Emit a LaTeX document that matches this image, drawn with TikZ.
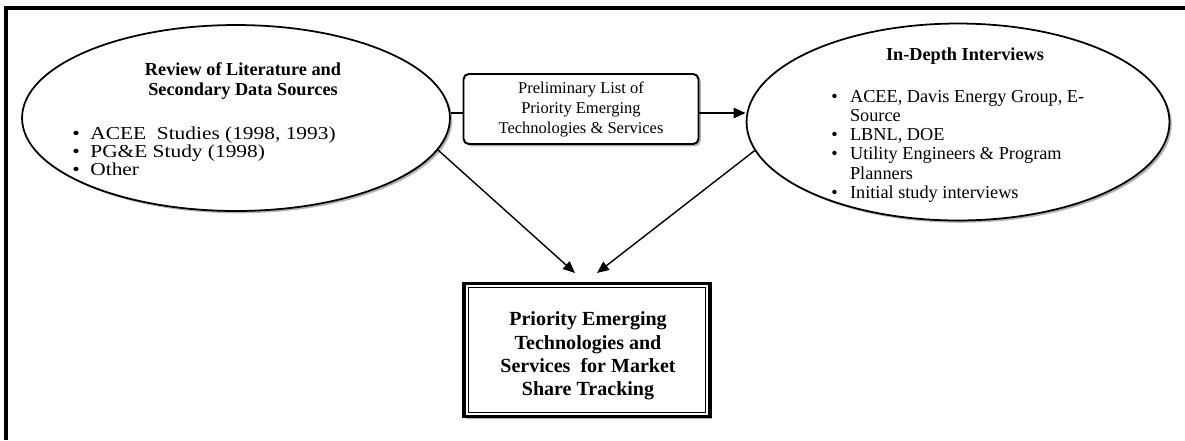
\documentclass[tikz,border=0pt]{standalone}
\usepackage{fontspec}
\setmainfont{Liberation Serif}
\newfontfamily\widefont{Liberation Serif}[FakeStretch=1.17]
\usetikzlibrary{shapes.geometric,shadows,arrows.meta}
\begin{document}
\begin{tikzpicture}[x=0.02cm, y=-0.02cm, >={Triangle[length=6.8pt,width=5.8pt]},
    every node/.style={inner sep=0pt},
    shade/.style={drop shadow={shadow xshift=1.3pt, shadow yshift=-1.3pt, fill=black!30, opacity=1}},
    bubble/.style={ellipse, draw, line width=1pt, fill=white, shade},
    prelimbox/.style={draw, line width=1.1pt, rounded corners=3pt, fill=white, shade, align=center,
        minimum width=4.7cm, minimum height=1.4cm, font=\fontsize{9.4}{11.4}\selectfont},
    finalbox/.style={draw, line width=2.2pt, fill=white, shade, minimum width=4.92cm, minimum height=2.66cm},
    finaltxt/.style={align=center, font=\bfseries\fontsize{11.4}{13.3}\selectfont},
    headtxt/.style={anchor=base, font=\bfseries\fontsize{10.4}{11.4}\selectfont},
    listtxt/.style={anchor=base west, font=\fontsize{10.4}{11}\selectfont}]
\useasboundingbox (0,0) rectangle (1185,440);
\draw[line width=2.4pt] (6,440) -- (6,8) -- (1185,8);
    \node[bubble, minimum width=8.56cm, minimum height=3.72cm] (lit) at (236,118) {};
    \node[bubble, minimum width=8.46cm, minimum height=3.94cm] (intv) at (958,122) {};
    \node[prelimbox] (prelim) at (581,109) {Preliminary List of\\Priority Emerging\\Technologies \& Services};
    \node[finalbox] (final) at (587,350) {};
\draw[line width=0.6pt] ([shift={(6,6)}]final.north west) rectangle ([shift={(-6,-6)}]final.south east);
    \node[finaltxt] (finaltext) at (588,356) {Priority Emerging\\Technologies and\\Services~ for Market\\Share Tracking};
    \node[headtxt] (lithead) at (243,75) {\begin{tabular}[t]{@{}c@{}}Review of  Literature and\\Secondary Data Sources\end{tabular}};
    \node[headtxt] (intvhead) at (965,60) {In-Depth Interviews};
    \node[listtxt, font=\widefont\fontsize{10.4}{10.5}\selectfont] (litlist) at (72,139) {\begin{tabular}[t]{@{}l@{\hspace{6pt}}l@{}}
        \textbullet & ACEE~ Studies (1998, 1993)\\
        \textbullet & PG\&E Study (1998)\\
        \textbullet & Other\end{tabular}};
    \node[listtxt] (intvlist) at (831,102) {\begin{tabular}[t]{@{}l@{\hspace{7pt}}l@{}}
        \textbullet & ACEE, Davis Energy Group, E-\\
                    & Source\\
        \textbullet & LBNL, DOE\\
        \textbullet & Utility Engineers \& Program\\
                    & Planners\\
        \textbullet & Initial study interviews\end{tabular}};
\coordinate (link) at (0,113);
\coordinate (tipL) at (575,273);
\coordinate (tipR) at (597,273);
\draw[line width=1pt] (lit.east |- link) -- (prelim.west |- link);
\draw[->, line width=1pt] (prelim.east |- link) -- (intv.west |- link);
    \foreach \from/\to in {lit.-9/tipL, intv.188/tipR}
        \draw[->, line width=0.8pt] (\from) -- (\to);
\end{tikzpicture}
\end{document}
